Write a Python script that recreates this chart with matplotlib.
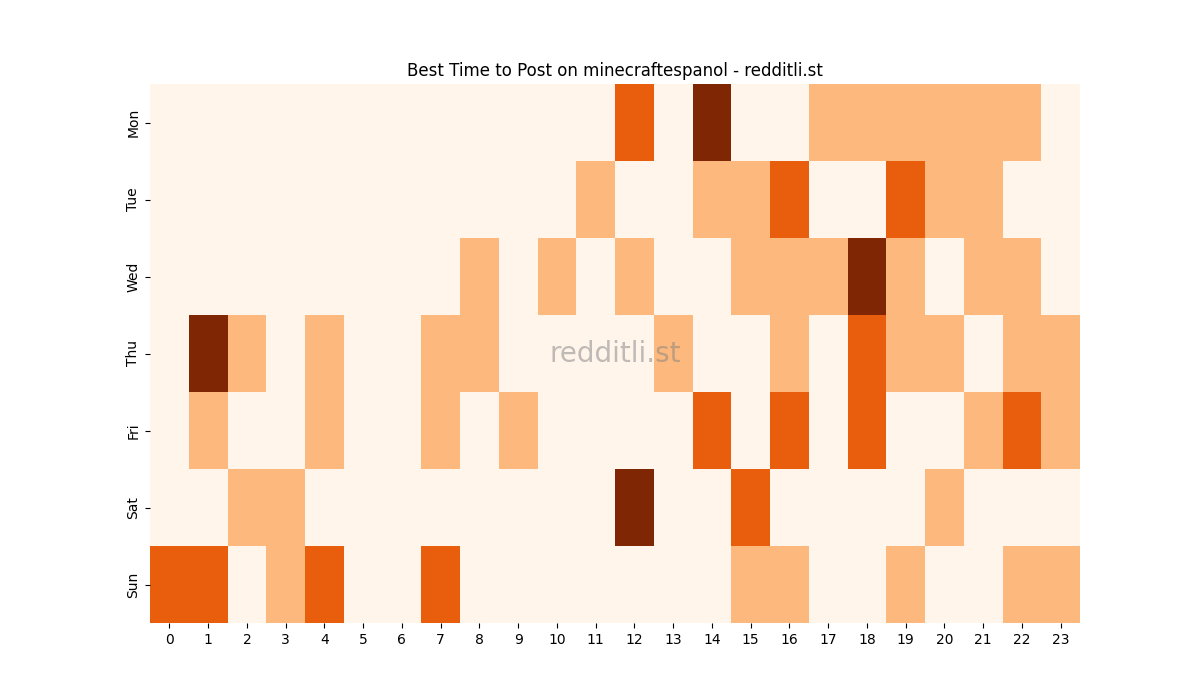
import numpy as np
import matplotlib
matplotlib.use("Agg")
import matplotlib.pyplot as plt
import seaborn as sns

days = ["Mon", "Tue", "Wed", "Thu", "Fri", "Sat", "Sun"]
hours = list(range(24))

# activity level per hour (0-3)
mon = [0, 0, 0, 0, 0, 0, 0, 0, 0, 0, 0, 0, 2, 0, 3, 0, 0, 1, 1, 1, 1, 1, 1, 0]
tue = [0, 0, 0, 0, 0, 0, 0, 0, 0, 0, 0, 1, 0, 0, 1, 1, 2, 0, 0, 2, 1, 1, 0, 0]
wed = [0, 0, 0, 0, 0, 0, 0, 0, 1, 0, 1, 0, 1, 0, 0, 1, 1, 1, 3, 1, 0, 1, 1, 0]
thu = [0, 3, 1, 0, 1, 0, 0, 1, 1, 0, 0, 0, 0, 1, 0, 0, 1, 0, 2, 1, 1, 0, 1, 1]
fri = [0, 1, 0, 0, 1, 0, 0, 1, 0, 1, 0, 0, 0, 0, 2, 0, 2, 0, 2, 0, 0, 1, 2, 1]
sat = [0, 0, 1, 1, 0, 0, 0, 0, 0, 0, 0, 0, 3, 0, 0, 2, 0, 0, 0, 0, 1, 0, 0, 0]
sun = [2, 2, 0, 1, 2, 0, 0, 2, 0, 0, 0, 0, 0, 0, 0, 1, 1, 0, 0, 1, 0, 0, 1, 1]

grid = np.array([mon, tue, wed, thu, fri, sat, sun])

fig, ax = plt.subplots(figsize=(12, 7), dpi=100)
sns.heatmap(grid, cmap="Oranges", vmin=0, vmax=3, cbar=False, ax=ax,
            xticklabels=hours, yticklabels=days)
ax.set_title("Best Time to Post on minecraftespanol - redditli.st")
ax.text(0.5, 0.5, "redditli.st", transform=ax.transAxes, ha="center",
        va="center", fontsize=20, color="gray", alpha=0.5)
plt.yticks(rotation=90, va="center")
plt.xticks(rotation=0)
fig.savefig("out.png")
